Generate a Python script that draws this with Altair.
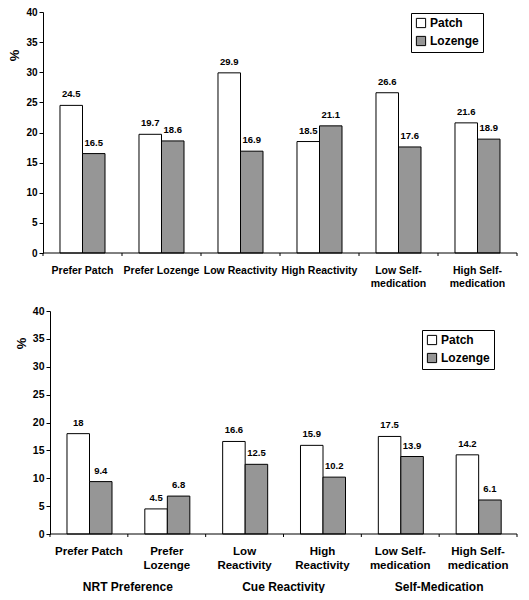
import altair as alt
import pandas as pd

series = ["Patch", "Lozenge"]
series_colors = ["white", "#969696"]

categories = ["Prefer Patch", "Prefer Lozenge", "Low Reactivity",
              "High Reactivity", "Low Self-medication", "High Self-medication"]

top_patch = [24.5, 19.7, 29.9, 18.5, 26.6, 21.6]
top_lozenge = [16.5, 18.6, 16.9, 21.1, 17.6, 18.9]
top_label_lines = [["Prefer Patch"], ["Prefer Lozenge"], ["Low Reactivity"],
                   ["High Reactivity"], ["Low Self-", "medication"],
                   ["High Self-", "medication"]]

bottom_patch = [18, 4.5, 16.6, 15.9, 17.5, 14.2]
bottom_lozenge = [9.4, 6.8, 12.5, 10.2, 13.9, 6.1]
bottom_label_lines = [["Prefer Patch"], ["Prefer", "Lozenge"], ["Low", "Reactivity"],
                      ["High", "Reactivity"], ["Low Self-", "medication"],
                      ["High Self-", "medication"]]

groups = ["NRT Preference", "Cue Reactivity", "Self-Medication"]
group_anchor = ["Prefer Lozenge", "High Reactivity", "High Self-medication"]

y_ticks = [0, 5, 10, 15, 20, 25, 30, 35, 40]
FONT = "Liberation Sans"


def label_expr(cats, lines):
    expr = "datum.label"
    for c, ls in reversed(list(zip(cats, lines))):
        arr = "[" + ", ".join("'" + s + "'" for s in ls) + "]"
        expr = f"datum.label == '{c}' ? {arr} : ({expr})"
    return expr


def panel(patch, lozenge, lines, W, H, shift, leg_x, leg_y, title_x, title_y,
          xlab_size, xlab_lh, xlab_pad, ylab_size, with_groups=False):
    rows = []
    for c, p, l in zip(categories, patch, lozenge):
        rows.append({"cat": c, "series": "Patch", "value": p, "label": f"{p:g}"})
        rows.append({"cat": c, "series": "Lozenge", "value": l, "label": f"{l:g}"})
    df = pd.DataFrame(rows)
    cdf = pd.DataFrame({"cat": categories})
    edf = pd.DataFrame({"cat": [categories[0]], "cat_end": [categories[-1]], "zero": [0]})

    xaxis = alt.Axis(title=None, labelAngle=0, ticks=False, domain=False,
                     labelExpr=label_expr(categories, lines), labelFontSize=xlab_size,
                     labelFontWeight="bold", labelLineHeight=xlab_lh,
                     labelPadding=xlab_pad, labelOverlap=False, labelBound=False,
                     labelLimit=0, labelColor="black")
    xscale = alt.Scale(domain=categories, paddingInner=0, paddingOuter=0,
                       range=[shift, W])
    yaxis = alt.Axis(title="%", values=y_ticks, grid=False, domainColor="black",
                     tickColor="black", tickSize=4, labelFontSize=ylab_size,
                     labelFontWeight="bold", labelPadding=2, labelColor="black",
                     titleFontSize=13, titleFontWeight="bold", titleAngle=270,
                     titleX=title_x, titleY=title_y, titleAlign="center",
                     titleBaseline="middle", titleColor="black", offset=-shift)
    yscale = alt.Scale(domain=[0, 40])
    x = alt.X("cat:N", scale=xscale, axis=xaxis, sort=categories)
    xo = alt.XOffset("series:N", sort=series,
                     scale=alt.Scale(domain=series, paddingOuter=0.755, paddingInner=0))
    y = alt.Y("value:Q", scale=yscale, axis=yaxis)

    bars = alt.Chart(df).mark_bar(stroke="black", strokeWidth=1).encode(
        x=x, xOffset=xo, y=y,
        color=alt.Color("series:N", sort=series,
                        scale=alt.Scale(domain=series, range=series_colors),
                        legend=alt.Legend(title=None, orient="none", legendX=leg_x,
                                          legendY=leg_y, direction="vertical",
                                          strokeColor="black", fillColor="white",
                                          padding=4, symbolType="square",
                                          symbolSize=85, symbolStrokeColor="black",
                                          symbolStrokeWidth=1, labelFontSize=12,
                                          labelFontWeight="bold", rowPadding=4,
                                          labelOffset=3, labelColor="black")),
    )
    texts = alt.Chart(df).mark_text(baseline="bottom", dy=-6, fontSize=9.5,
                                    fontWeight="bold", color="black").encode(
        x=x, xOffset=xo, y=y, text="label:N")
    baseline = alt.Chart(edf).mark_rule(color="black").encode(
        x=alt.X("cat:N", scale=xscale, axis=xaxis, sort=categories, bandPosition=0),
        x2=alt.X2("cat_end:N", bandPosition=1),
        y=alt.Y("zero:Q", scale=yscale, axis=yaxis))
    ticks0 = alt.Chart(cdf).mark_rule(color="black").encode(
        x=alt.X("cat:N", scale=xscale, axis=xaxis, sort=categories, bandPosition=0),
        y=alt.value(H), y2=alt.value(H + 3))
    ticks1 = alt.Chart(cdf.tail(1)).mark_rule(color="black").encode(
        x=alt.X("cat:N", scale=xscale, axis=xaxis, sort=categories, bandPosition=1),
        y=alt.value(H), y2=alt.value(H + 3))
    layers = [bars, texts, baseline, ticks0, ticks1]
    if with_groups:
        gdf = pd.DataFrame({"cat": group_anchor, "group": groups})
        glab = alt.Chart(gdf).mark_text(fontSize=12, fontWeight="bold",
                                        baseline="alphabetic", color="black").encode(
            x=alt.X("cat:N", scale=xscale, axis=xaxis, sort=categories, bandPosition=0),
            y=alt.value(H + 57), text="group:N")
        layers.append(glab)
    return alt.layer(*layers).properties(width=W, height=H)


top = panel(top_patch, top_lozenge, top_label_lines, 474, 241, 0, 368, 1, -29, 43,
            10.5, 13, 12, 10)
bottom = panel(bottom_patch, bottom_lozenge, bottom_label_lines, 474, 223, 7, 379, 19,
               -29, 32, 11.5, 14.5, 11, 10.5, with_groups=True)

chart = alt.vconcat(top, bottom, spacing=17).resolve_scale(
    color="independent"
).resolve_legend(color="independent").properties(
    padding={"left": 0, "top": -1, "right": 0, "bottom": 0}
).configure(font=FONT).configure_view(stroke=None)

chart.save("out.html", embed_options={"renderer": "svg", "actions": False})
